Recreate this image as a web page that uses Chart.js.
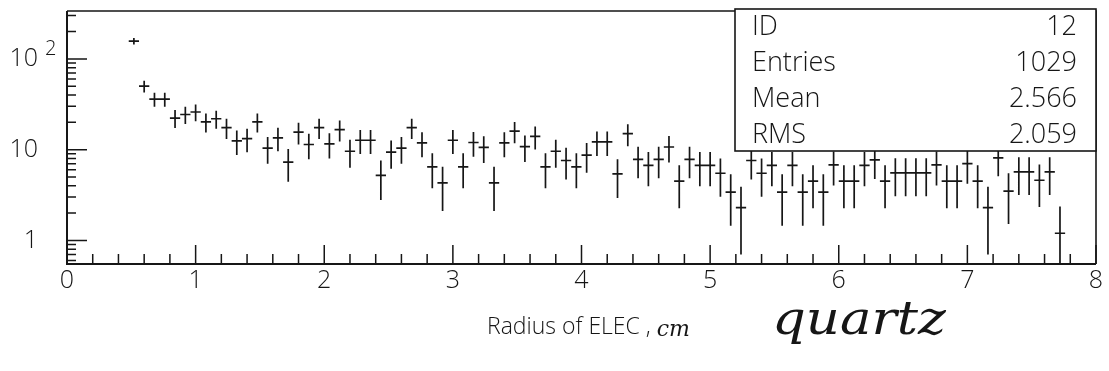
<!DOCTYPE html>
<html>
<head>
<meta charset="utf-8">
<script src="https://cdn.jsdelivr.net/npm/chart.js@4/dist/chart.umd.min.js"></script>
<style>
  html, body { margin: 0; padding: 0; background: #ffffff; }
  #wrap { width: 1109px; height: 371px; }
</style>
</head>
<body>
<div id="wrap"><canvas id="c" width="1109" height="371"></canvas></div>
<script>
// ---- data (bin centres, contents, errors) ----
const binWidth = 0.08;
const binCenters = [0.52,0.60,0.68,0.76,0.84,0.92,1.00,1.08,1.16,1.24,
  1.32,1.40,1.48,1.56,1.64,1.72,1.80,1.88,1.96,2.04,
  2.12,2.20,2.28,2.36,2.44,2.52,2.60,2.68,2.76,2.84,
  2.92,3.00,3.08,3.16,3.24,3.32,3.40,3.48,3.56,3.64,
  3.72,3.80,3.88,3.96,4.04,4.12,4.20,4.28,4.36,4.44,
  4.52,4.60,4.68,4.76,4.84,4.92,5.00,5.08,5.16,5.24,
  5.32,5.40,5.48,5.56,5.64,5.72,5.80,5.88,5.96,6.04,
  6.12,6.20,6.28,6.36,6.44,6.52,6.60,6.68,6.76,6.84,
  6.92,7.00,7.08,7.16,7.24,7.32,7.40,7.48,7.56,7.64,7.72];
const binValues = [157,50,36,36,22.3,24.4,26,20.2,21.9,17.5,
  12.5,13.2,20.2,10.4,13.5,7.3,15.6,11.4,17.5,11.6,
  16.6,9.6,12.7,12.7,5.2,9.4,10.4,17.5,11.9,6.45,
  4.3,12.7,6.45,12.0,10.6,4.3,11.9,16.0,10.8,14.0,
  6.45,9.6,7.6,6.45,8.7,12.2,12.2,5.4,15.0,7.8,
  6.7,7.8,10.7,4.5,7.8,6.7,6.7,5.5,3.4,2.3,
  7.6,5.5,6.7,3.4,6.7,3.4,4.5,3.4,6.8,4.5,
  4.5,6.7,7.7,4.5,5.55,5.55,5.55,5.55,6.8,4.5,
  4.5,7.0,4.5,2.3,8.1,3.5,5.7,5.7,4.6,5.7,1.2];
const binErrors = [13.3,7.5,6.35,6.35,5.0,5.23,5.4,4.76,4.95,4.43,
  3.74,3.85,4.76,3.41,3.89,2.86,4.18,3.57,4.43,3.6,
  4.31,3.28,3.77,3.77,2.41,3.24,3.41,4.43,3.65,2.69,
  2.19,3.77,2.69,3.67,3.45,2.19,3.65,4.23,3.48,3.96,
  2.69,3.28,2.92,2.69,3.12,3.7,3.7,2.46,4.1,2.96,
  2.74,2.96,3.46,2.24,2.96,2.74,2.74,2.48,1.95,1.6,
  2.92,2.48,2.74,1.95,2.74,1.95,2.24,1.95,2.76,2.24,
  2.24,2.74,2.94,2.24,2.49,2.49,2.49,2.49,2.76,2.24,
  2.24,2.8,2.24,1.6,3.01,1.98,2.53,2.53,2.27,2.53,1.16];

const xTickValues = [0,1,2,3,4,5,6,7,8];
const xTickLabels = ['0','1','2','3','4','5','6','7','8'];
const yTickValues = [1,10,100];
const yTickLabels = [['1',''],['10',''],['10','2']];
const statsLabels = ['ID','Entries','Mean','RMS'];
const statsValues = ['12','1029','2.566','2.059'];
const xTitle = 'Radius of ELEC , ';
const xTitleUnit = 'cm';
const note = 'quartz';

const points = binCenters.map((c, i) => ({ x: c, y: binValues[i] }));

const INK = '#161616';
const SANS = '"Open Sans", "DejaVu Sans", sans-serif';

const pawPlugin = {
  id: 'paw',
  afterDatasetsDraw(chart) {
    const ctx = chart.ctx;
    const xs = chart.scales.x, ys = chart.scales.y;
    const a = chart.chartArea;
    ctx.save();
    ctx.strokeStyle = INK;
    ctx.fillStyle = INK;
    ctx.lineCap = 'butt';

    // frame
    ctx.lineWidth = 2;
    ctx.beginPath();
    ctx.moveTo(a.left, a.top); ctx.lineTo(a.left, a.bottom); ctx.lineTo(a.right, a.bottom);
    ctx.stroke();
    ctx.lineWidth = 1.6;
    ctx.beginPath();
    ctx.moveTo(a.left, a.top); ctx.lineTo(a.right, a.top); ctx.lineTo(a.right, a.bottom);
    ctx.stroke();

    // x ticks (inward)
    ctx.lineWidth = 1.5;
    ctx.beginPath();
    for (let t = xs.min; t <= xs.max + 1e-9; t += 0.2) {
      const px = xs.getPixelForValue(t);
      const major = Math.abs(t - Math.round(t)) < 1e-6;
      const len = major ? 19 : 10;
      ctx.moveTo(px, a.bottom); ctx.lineTo(px, a.bottom - len);
    }
    ctx.stroke();

    // y ticks (inward), log decades
    ctx.beginPath();
    for (let d = 0.1; d <= 1000; d *= 10) {
      for (let m = 1; m <= 9; m++) {
        const v = m * d;
        if (v < ys.min || v > ys.max) continue;
        const py = ys.getPixelForValue(v);
        const len = (m === 1) ? 20 : 9;
        ctx.moveTo(a.left, py); ctx.lineTo(a.left + len, py);
      }
    }
    ctx.stroke();

    // x tick labels
    ctx.font = '300 25px ' + SANS;
    ctx.textAlign = 'center';
    ctx.textBaseline = 'middle';
    xTickValues.forEach((v, i) => {
      ctx.fillText(xTickLabels[i], xs.getPixelForValue(v), a.bottom + 17);
    });

    // y tick labels
    yTickValues.forEach((v, i) => {
      const py = ys.getPixelForValue(v);
      ctx.font = '300 25px ' + SANS;
      ctx.textAlign = 'right';
      ctx.textBaseline = 'middle';
      ctx.fillText(yTickLabels[i][0], 38, py);
      if (yTickLabels[i][1]) {
        ctx.font = '300 20px ' + SANS;
        ctx.textAlign = 'left';
        ctx.fillText(yTickLabels[i][1], 45, py - 10);
      }
    });

    // error crosses
    ctx.lineWidth = 1.7;
    ctx.beginPath();
    binCenters.forEach((c, i) => {
      const v = binValues[i], e = binErrors[i];
      const px = xs.getPixelForValue(c);
      const pl = xs.getPixelForValue(c - binWidth / 2);
      const pr = xs.getPixelForValue(c + binWidth / 2);
      const py = ys.getPixelForValue(v);
      const pt = Math.max(a.top, ys.getPixelForValue(v + e));
      const lo = v - e;
      const pb = (lo > ys.min) ? ys.getPixelForValue(lo) : a.bottom;
      ctx.moveTo(pl, py); ctx.lineTo(pr, py);
      ctx.moveTo(px, pt); ctx.lineTo(px, pb);
    });
    ctx.stroke();

    // stats box
    const bx = 735, by = 9, br = a.right, bb = 151;
    ctx.fillStyle = '#ffffff';
    ctx.fillRect(bx, by, br - bx, bb - by);
    ctx.lineWidth = 1.6;
    ctx.strokeRect(bx, by, br - bx, bb - by);
    ctx.fillStyle = INK;
    ctx.font = '300 27px ' + SANS;
    ctx.textBaseline = 'middle';
    const rowY = [27, 63, 99, 135];
    statsLabels.forEach((s, i) => {
      ctx.textAlign = 'left';
      ctx.fillText(s, 752, rowY[i]);
      ctx.textAlign = 'right';
      ctx.fillText(statsValues[i], 1077, rowY[i]);
    });

    // axis title
    ctx.font = '300 23px ' + SANS;
    ctx.textAlign = 'left';
    ctx.textBaseline = 'middle';
    ctx.fillText(xTitle, 487, 327);
    const tw = ctx.measureText(xTitle).width;
    ctx.font = 'italic 22px "DejaVu Serif", serif';
    ctx.fillText(xTitleUnit, 487 + tw, 330);

    // handwritten note
    ctx.font = 'italic 300 46px "DejaVu Serif", serif';
    ctx.textAlign = 'left';
    ctx.save();
    ctx.translate(772, 322);
    ctx.scale(1.15, 1);
    ctx.fillText(note, 0, 0);
    ctx.restore();

    ctx.restore();
  }
};

new Chart(document.getElementById('c').getContext('2d'), {
  type: 'scatter',
  data: { datasets: [{ data: points, pointRadius: 0, showLine: false, borderColor: INK }] },
  options: {
    responsive: false,
    animation: false,
    devicePixelRatio: 1,
    layout: { padding: { left: 67, right: 13, top: 11, bottom: 107 } },
    plugins: { legend: { display: false }, tooltip: { enabled: false } },
    scales: {
      x: { type: 'linear', min: 0, max: 8, bounds: 'data', display: false },
      y: { type: 'logarithmic', min: 0.55, max: 337, bounds: 'data', display: false }
    }
  },
  plugins: [pawPlugin]
});
</script>
</body>
</html>
